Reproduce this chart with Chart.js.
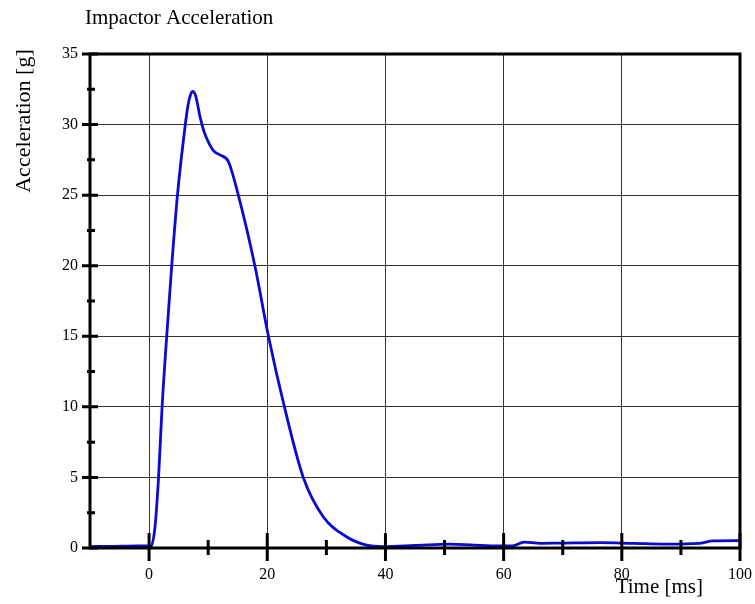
<!DOCTYPE html>
<html>
<head>
<meta charset="utf-8">
<script src="https://cdn.jsdelivr.net/npm/chart.js@4"></script>
<style>
  html, body { margin: 0; padding: 0; background: #fff; }
  #wrap { width: 755px; height: 604px; }
</style>
</head>
<body>
<div id="wrap"><canvas id="chart" width="755" height="604"></canvas></div>
<script>
// values
const timeMs = [-10, -6, -2, -0.5, 0.3, 1.0, 1.6, 2.2, 2.98, 3.83, 4.8, 6.1, 6.6, 7.0, 7.4, 7.9, 8.6, 9.3, 10.0, 11.0, 12.0, 13.4, 15.1, 17.9, 20.2, 22.9, 26.1, 29.5, 33.4, 36.8, 39.6, 45, 50.9, 55, 59.4, 61.5, 63.5, 66.2, 70, 76.3, 81.9, 87.6, 93.2, 95.4, 100];
const accelG = [0.1, 0.12, 0.15, 0.15, 0.1, 1.5, 5.0, 10.0, 15.0, 20.0, 25.0, 29.9, 31.4, 32.1, 32.35, 32.0, 30.6, 29.5, 28.8, 28.1, 27.85, 27.4, 25.0, 20.0, 15.0, 10.0, 5.0, 2.2, 0.8, 0.2, 0.1, 0.18, 0.28, 0.2, 0.14, 0.15, 0.42, 0.33, 0.35, 0.38, 0.33, 0.28, 0.33, 0.5, 0.52];
const xGridTicks = [0, 20, 40, 60, 80, 100];
const xMarkTicks = [0, 10, 20, 30, 40, 50, 60, 70, 80, 90, 100];
const yGridTicks = [0, 5, 10, 15, 20, 25, 30, 35];
const yMinorTicks = [2.5, 7.5, 12.5, 17.5, 22.5, 27.5, 32.5];

const serif = "'Liberation Serif', 'Times New Roman', serif";

const framePlugin = {
  id: "frame",
  afterDraw(c) {
    const ctx = c.ctx;
    const a = c.chartArea;
    const xs = c.scales.x, ys = c.scales.y;
    ctx.save();
    ctx.strokeStyle = "#000";
    ctx.lineCap = "butt";
    // box
    ctx.lineWidth = 3;
    ctx.beginPath();
    ctx.moveTo(a.left, a.bottom); ctx.lineTo(a.right, a.bottom);
    ctx.moveTo(a.left, a.top); ctx.lineTo(a.right, a.top);
    ctx.moveTo(a.left, a.top - 1.5); ctx.lineTo(a.left, a.bottom + 1.5);
    ctx.moveTo(a.right, a.top - 1.5); ctx.lineTo(a.right, a.bottom + 1.5);
    ctx.stroke();
    // x tick marks crossing the axis
    ctx.beginPath();
    xMarkTicks.forEach(v => {
      const px = xs.getPixelForValue(v);
      const big = v % 20 === 0;
      ctx.moveTo(px, a.bottom - (big ? 15 : 8));
      ctx.lineTo(px, a.bottom + (big ? 13 : 7));
    });
    ctx.stroke();
    // y tick marks
    ctx.beginPath();
    yGridTicks.forEach(v => {
      const py = ys.getPixelForValue(v);
      ctx.moveTo(a.left - 8, py); ctx.lineTo(a.left + 8, py);
    });
    yMinorTicks.forEach(v => {
      const py = ys.getPixelForValue(v);
      ctx.moveTo(a.left - 3, py); ctx.lineTo(a.left + 5, py);
    });
    ctx.stroke();
    // titles
    ctx.fillStyle = "#000";
    ctx.font = "21px " + serif;
    ctx.textAlign = "left";
    ctx.textBaseline = "alphabetic";
    ctx.fillText("Impactor Acceleration", 85, 24);
    ctx.textAlign = "right";
    ctx.fillText("Time [ms]", 703, 593);
    ctx.font = "22px " + serif;
    ctx.translate(24, 121);
    ctx.rotate(-Math.PI / 2);
    ctx.textAlign = "center";
    ctx.textBaseline = "middle";
    ctx.fillText("Acceleration [g]", 0, 0);
    ctx.restore();
  }
};

new Chart(document.getElementById("chart").getContext("2d"), {
  type: "line",
  data: {
    datasets: [{
      data: timeMs.map((t, i) => ({ x: t, y: accelG[i] })),
      borderColor: "#0a0ad0",
      borderWidth: 2.8,
      pointRadius: 0,
      cubicInterpolationMode: "monotone",
      fill: false
    }]
  },
  options: {
    responsive: false,
    animation: false,
    layout: { padding: { left: 0, right: 15, top: 54, bottom: 0 } },
    plugins: { legend: { display: false }, tooltip: { enabled: false }, title: { display: false } },
    scales: {
      x: {
        type: "linear",
        min: -10,
        max: 100,
        afterBuildTicks: s => { s.ticks = xGridTicks.map(v => ({ value: v })); },
        afterFit: s => { s.height = 56; s.paddingLeft = 0; s.paddingRight = 0; },
        grid: { color: "#333", lineWidth: 1, drawTicks: false },
        border: { display: false },
        ticks: { color: "#000", font: { family: serif, size: 16 }, padding: 17, maxRotation: 0 }
      },
      y: {
        min: 0,
        max: 35,
        afterBuildTicks: s => { s.ticks = yGridTicks.map(v => ({ value: v })); },
        afterFit: s => { s.width = 90; s.paddingTop = 0; s.paddingBottom = 0; },
        grid: { color: "#333", lineWidth: 1, drawTicks: false },
        border: { display: false },
        ticks: { color: "#000", font: { family: serif, size: 16 }, padding: 12 }
      }
    }
  },
  plugins: [framePlugin]
});
</script>
</body>
</html>
